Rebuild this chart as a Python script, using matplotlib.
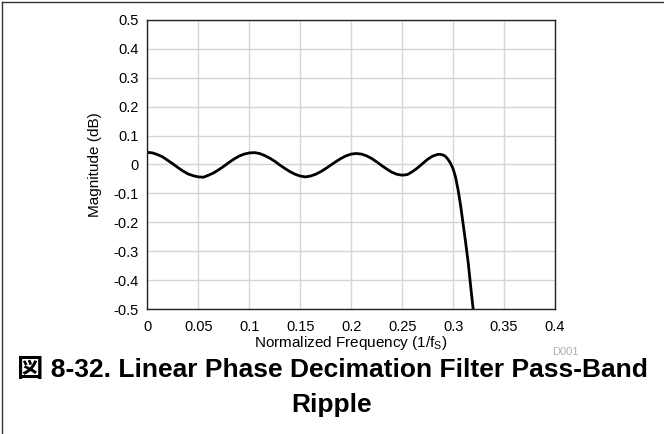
import matplotlib
matplotlib.use("Agg")
import matplotlib.pyplot as plt
from matplotlib.lines import Line2D

plt.rcParams['font.family'] = ['Liberation Sans', 'Noto Sans CJK JP']
plt.rcParams['mathtext.fontset'] = 'custom'
plt.rcParams['mathtext.rm'] = 'Liberation Sans'

# values
freq = [0.000, 0.005, 0.010, 0.015, 0.020, 0.025, 0.030, 0.035, 0.040, 0.045,
        0.050, 0.055, 0.060, 0.065, 0.070, 0.075, 0.080, 0.085, 0.090, 0.095,
        0.100, 0.105, 0.110, 0.115, 0.120, 0.125, 0.130, 0.135, 0.140, 0.145,
        0.150, 0.155, 0.160, 0.165, 0.170, 0.175, 0.180, 0.185, 0.190, 0.195,
        0.200, 0.205, 0.210, 0.215, 0.220, 0.225, 0.230, 0.235, 0.240, 0.245,
        0.250, 0.255, 0.260, 0.265, 0.270, 0.275, 0.280, 0.285, 0.2875, 0.290,
        0.2925, 0.295, 0.2975, 0.300, 0.3025, 0.305, 0.3075, 0.310, 0.3125, 0.315,
        0.3175, 0.320]
mag_db = [0.042, 0.040, 0.034, 0.026, 0.014, 0.002, -0.011, -0.023, -0.033, -0.039,
          -0.043, -0.044, -0.037, -0.029, -0.018, -0.006, 0.007, 0.019, 0.029, 0.036,
          0.040, 0.041, 0.038, 0.031, 0.022, 0.011, -0.002, -0.014, -0.025, -0.034,
          -0.040, -0.043, -0.040, -0.034, -0.025, -0.014, -0.002, 0.010, 0.021, 0.030,
          0.036, 0.038, 0.036, 0.030, 0.021, 0.009, -0.004, -0.016, -0.027, -0.034,
          -0.037, -0.035, -0.025, -0.012, 0.003, 0.018, 0.029, 0.035, 0.035, 0.033,
          0.028, 0.018, 0.004, -0.015, -0.045, -0.090, -0.145, -0.210, -0.275, -0.345,
          -0.430, -0.510]

xticks = [0, 0.05, 0.1, 0.15, 0.2, 0.25, 0.3, 0.35, 0.4]
xlabels = ['0', '0.05', '0.1', '0.15', '0.2', '0.25', '0.3', '0.35', '0.4']
yticks = [-0.5, -0.4, -0.3, -0.2, -0.1, 0, 0.1, 0.2, 0.3, 0.4, 0.5]
ylabels = ['-0.5', '-0.4', '-0.3', '-0.2', '-0.1', '0', '0.1', '0.2', '0.3', '0.4', '0.5']

fig = plt.figure(figsize=(6.64, 4.34), dpi=100)
ax = fig.add_axes([0.2221, 0.288, 0.6137, 0.666])

ax.plot(freq, mag_db, color='black', lw=2, solid_capstyle='butt')
ax.set_xlim(0, 0.4)
ax.set_ylim(-0.5, 0.5)
ax.set_xticks(xticks)
ax.set_xticklabels(xlabels)
ax.set_yticks(yticks)
ax.set_yticklabels(ylabels)
ax.tick_params(length=0, labelsize=10.5)
ax.tick_params(axis='x', pad=8)
ax.tick_params(axis='y', pad=6.5)
ax.grid(True, color='#d6d6d6', lw=1)
ax.set_axisbelow(True)
for s in ax.spines.values():
    s.set_color('#222222')
    s.set_linewidth(1)

ax.set_xlabel('Normalized Frequency (1/f$_\\mathrm{S}$)', fontsize=11, labelpad=0)
ax.set_ylabel('Magnitude (dB)', fontsize=11, labelpad=8)

fig.text(0.851, 0.188, 'D001', fontsize=8, color='#b0b0b0', ha='center', va='center')
fig.text(0.5, 0.1475, '図 8-32. Linear Phase Decimation Filter Pass-Band',
         fontsize=19, fontweight='bold', ha='center', va='center')
fig.text(0.5, 0.067, 'Ripple', fontsize=19, fontweight='bold', ha='center', va='center')

# thin frame lines at top and left of the page
fig.add_artist(Line2D([0.003, 1], [0.995, 0.995], color='#333333', lw=1))
fig.add_artist(Line2D([0.003, 0.003], [0, 0.995], color='#333333', lw=1))

fig.savefig('out.png', dpi=100)
